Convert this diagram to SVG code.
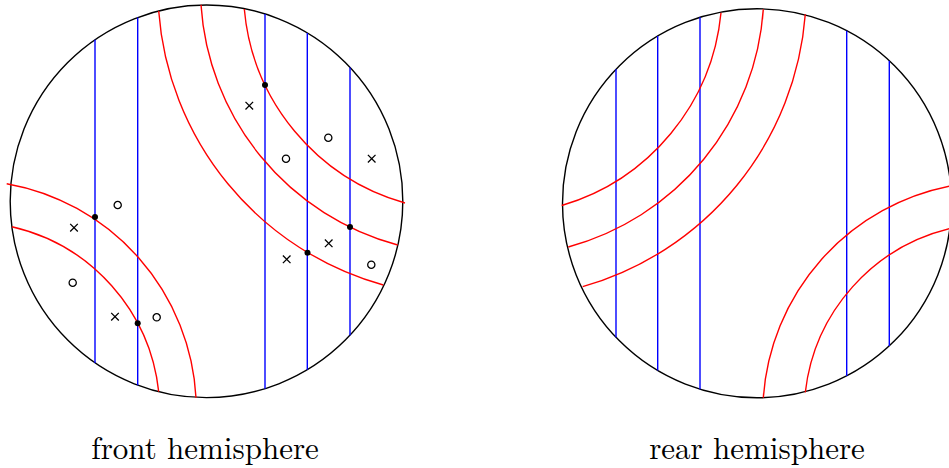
<svg xmlns="http://www.w3.org/2000/svg" xmlns:xlink="http://www.w3.org/1999/xlink" width="949" height="468" viewBox="0 0 949 468">
<style>
.bd{fill:none;stroke:#000;stroke-width:1.4}
.bl{fill:none;stroke:#0000ff;stroke-width:1.4}
.rd{fill:none;stroke:#ff0000;stroke-width:1.4}
.mk{fill:none;stroke:#000;stroke-width:1.3}
.dt{fill:#000}
.lb{font-family:"Latin Modern Roman","Liberation Serif","DejaVu Serif",serif;font-size:31px;fill:#000;text-anchor:middle}
</style>
<defs>
<path id="xm" class="mk" d="M-3.8,-3.8 L3.8,3.8 M-3.8,3.8 L3.8,-3.8"/>
<circle id="om" class="mk" r="3.6"/>
<circle id="dm" class="dt" r="3"/>
</defs>
<g id="front">
<g id="front-boundary"><circle class="bd" cx="206.5" cy="201.3" r="196.3"/></g>
<g id="front-blue">
<line class="bl" x1="95" y1="39.7" x2="95" y2="362.9"/>
<line class="bl" x1="137.7" y1="17.4" x2="137.7" y2="385.2"/>
<line class="bl" x1="265" y1="13.9" x2="265" y2="388.7"/>
<line class="bl" x1="307.3" y1="32.9" x2="307.3" y2="369.7"/>
<line class="bl" x1="350" y1="67.4" x2="350" y2="335.2"/>
</g>
<g id="front-red">
<path class="rd" d="M6.7,183.7 A230,230 0 0 1 196,397.7"/>
<path class="rd" d="M12,226.7 A190.5,190.5 0 0 1 158.7,391.7"/>
<path class="rd" d="M244.3,9 A222,222 0 0 0 405,203"/>
<path class="rd" d="M201,4.9 A266.7,266.7 0 0 0 397.7,245"/>
<path class="rd" d="M158.7,11 A308,308 0 0 0 383.3,285"/>
</g>
<g id="front-markers">
<use xlink:href="#xm" x="74" y="227.7"/>
<use xlink:href="#xm" x="115" y="316.7"/>
<use xlink:href="#xm" x="249.3" y="105.7"/>
<use xlink:href="#xm" x="371.7" y="158.7"/>
<use xlink:href="#xm" x="328.7" y="243.3"/>
<use xlink:href="#xm" x="286.7" y="259.3"/>
<use xlink:href="#om" x="117.7" y="205"/>
<use xlink:href="#om" x="72.7" y="282.7"/>
<use xlink:href="#om" x="156.7" y="317.3"/>
<use xlink:href="#om" x="328.3" y="137.7"/>
<use xlink:href="#om" x="286" y="158.7"/>
<use xlink:href="#om" x="371.3" y="264.7"/>
<use xlink:href="#dm" x="95" y="217"/>
<use xlink:href="#dm" x="137.7" y="323.3"/>
<use xlink:href="#dm" x="265" y="85"/>
<use xlink:href="#dm" x="350" y="227"/>
<use xlink:href="#dm" x="307.5" y="252.7"/>
</g>
<text id="front-label" class="lb" x="205" y="459">front hemisphere</text>
</g>
<g id="rear">
<g id="rear-boundary"><circle class="bd" cx="757" cy="203.3" r="194.5"/></g>
<g id="rear-blue">
<line class="bl" x1="616" y1="69.3" x2="616" y2="337.3"/>
<line class="bl" x1="657.7" y1="36.1" x2="657.7" y2="370.5"/>
<line class="bl" x1="700" y1="17.3" x2="700" y2="389.3"/>
<line class="bl" x1="846.7" y1="30.7" x2="846.7" y2="375.9"/>
<line class="bl" x1="889.3" y1="60.7" x2="889.3" y2="345.9"/>
</g>
<g id="rear-red">
<path class="rd" d="M721,12.7 A223.5,223.5 0 0 1 561.7,205.5"/>
<path class="rd" d="M763.3,9.3 A265.2,265.2 0 0 1 568.3,247"/>
<path class="rd" d="M805.3,14.3 A307.8,307.8 0 0 1 582.7,286.7"/>
<path class="rd" d="M763.3,397.7 A232,232 0 0 1 952,185.7"/>
<path class="rd" d="M805.3,392.3 A190.5,190.5 0 0 1 952,228.1"/>
</g>
<text id="rear-label" class="lb" x="757" y="459">rear hemisphere</text>
</g>
</svg>
